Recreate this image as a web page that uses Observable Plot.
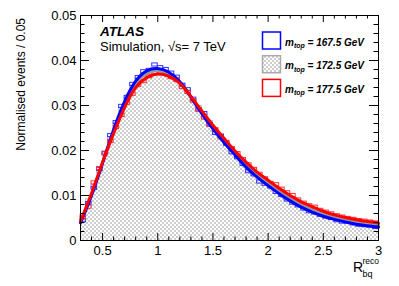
<!DOCTYPE html>
<html><head><meta charset="utf-8">
<script src="https://cdn.jsdelivr.net/npm/d3@7"></script>
<script src="https://cdn.jsdelivr.net/npm/@observablehq/plot@0.6"></script>
<style>body{margin:0;background:#fff} svg{display:block}</style>
</head><body><div id="chart"></div>
<script>
// ---- data ----
const binWidth = 0.05;
const binLow = d3.range(54).map(i => +(0.3 + i * binWidth).toFixed(2));
const errHalf = 0.00035;

const hist1725 = [.0055,.0088,.0120,.0153,.0190,.0226,.0257,.0290,.0314,.0340,.0357,.0366,.0376,.0379,.0376,.0374,.0366,.0358,.0344,.0330,.0310,.0295,.0275,.0262,.0243,.0230,.0214,.0202,.0186,.0175,.0161,.0152,.0140,.0133,.0122,.0115,.0105,.0099,.0089,.0084,.0076,.0072,.0065,.0062,.0056,.0054,.0049,.0047,.0043,.0042,.0040,.0038,.0037,.0035];
const hist1675 = [.0044,.0082,.0116,.0158,.0194,.0233,.0262,.0298,.0318,.0347,.0362,.0375,.0378,.0390,.0384,.0380,.0372,.0363,.0345,.0335,.0314,.0290,.0282,.0257,.0238,.0232,.0214,.0195,.0184,.0169,.0153,.0146,.0130,.0125,.0119,.0107,.0100,.0090,.0083,.0077,.0070,.0064,.0061,.0056,.0052,.0049,.0044,.0041,.0041,.0037,.0034,.0033,.0032,.0029];
const hist1775 = [.0050,.0074,.0128,.0160,.0193,.0220,.0251,.0278,.0305,.0325,.0345,.0353,.0364,.0372,.0374,.0370,.0362,.0356,.0340,.0329,.0310,.0290,.0272,.0256,.0246,.0228,.0218,.0204,.0193,.0180,.0168,.0158,.0147,.0137,.0127,.0124,.0114,.0106,.0100,.0090,.0083,.0077,.0074,.0067,.0063,.0059,.0055,.0052,.0049,.0047,.0044,.0043,.0041,.0039];

const fitX    = [0.3,0.4,0.5,0.6,0.7,0.8,0.9,1.0,1.1,1.2,1.3,1.4,1.5,1.6,1.7,1.8,1.9,2.0,2.1,2.2,2.3,2.4,2.5,2.6,2.7,2.8,2.9,3.0];
const fit1725 = [.0041,.0102,.0172,.0241,.0303,.0349,.0371,.0378,.0371,.0352,.0320,.0285,.0252,.0222,.0194,.0168,.0146,.0128,.0110,.0094,.0080,.0068,.0059,.0051,.0045,.0041,.0038,.0035];
const fit1675 = [.0039,.0100,.0172,.0246,.0309,.0354,.0377,.0382,.0374,.0353,.0319,.0282,.0248,.0218,.0190,.0163,.0141,.0122,.0104,.0088,.0074,.0063,.0054,.0047,.0041,.0036,.0033,.0030];
const fit1775 = [.0043,.0105,.0174,.0238,.0296,.0340,.0362,.0370,.0365,.0349,.0320,.0288,.0256,.0227,.0199,.0174,.0152,.0134,.0116,.0100,.0086,.0075,.0065,.0057,.0051,.0046,.0042,.0039];

const xMajor = [0.5,1,1.5,2,2.5,3];
const xMinor = d3.range(28).map(i => +(0.3 + i*0.1).toFixed(1)).filter(v => !xMajor.includes(v));
const yMajor = [0,0.01,0.02,0.03,0.04,0.05];
const yMinor = d3.range(26).map(i => +(i*0.002).toFixed(3)).filter(v => !yMajor.includes(v));
const xLabels = ["0.5","1","1.5","2","2.5","3"];
const yLabels = ["0","0.01","0.02","0.03","0.04","0.05"];

const legendLabels = ["167.5 GeV","172.5 GeV","177.5 GeV"];

// ---- build rows ----
const rows = h => h.map((v,i) => ({x1: binLow[i], x2: +(binLow[i]+binWidth).toFixed(2), v}));
const r1725 = rows(hist1725), r1675 = rows(hist1675), r1775 = rows(hist1775);
const stepPts = r1725.map(d => ({x: d.x1, y: d.v})).concat([{x: 3.0, y: hist1725[hist1725.length-1]}]);
const fitRows = f => fitX.map((x,i) => ({x, y: f[i]}));

const W = 399, H = 286, mL = 80, mR = 21, mT = 15, mB = 46;
const fw = W - mL - mR, fh = H - mT - mB;
const FONT = "'Liberation Sans', Arial, Helvetica, sans-serif";

const boxes = (data, color) => Plot.rect(data, {x1: "x1", x2: "x2", y1: d => d.v - errHalf, y2: d => d.v + errHalf, fill: "none", stroke: color, strokeWidth: 1});

const chart = Plot.plot({
  width: W, height: H, marginLeft: mL, marginRight: mR, marginTop: mT, marginBottom: mB,
  style: {fontFamily: FONT, fontSize: "13px", background: "white", color: "black"},
  x: {domain: [0.3, 3]},
  y: {domain: [0, 0.05]},
  marks: [
    Plot.areaY(stepPts, {x: "x", y: "y", curve: "step-after", fill: "url(#chk)"}),
    boxes(r1725, "#b8b8b8"),
    boxes(r1675, "#3030ff"),
    boxes(r1775, "#ff3030"),
    Plot.line(fitRows(fit1725), {x: "x", y: "y", curve: "natural", stroke: "#999999", strokeWidth: 3}),
    Plot.line(fitRows(fit1675), {x: "x", y: "y", curve: "natural", stroke: "#0000ff", strokeWidth: 3}),
    Plot.line(fitRows(fit1775), {x: "x", y: "y", curve: "natural", stroke: "#ff0000", strokeWidth: 3}),
    Plot.frame({stroke: "black", strokeWidth: 1}),
    Plot.tickX(xMajor, {x: d => d, insetTop: fh - 7, stroke: "black"}),
    Plot.tickX(xMinor, {x: d => d, insetTop: fh - 3.5, stroke: "black"}),
    Plot.tickX(xMajor, {x: d => d, insetBottom: fh - 7, stroke: "black"}),
    Plot.tickX(xMinor, {x: d => d, insetBottom: fh - 3.5, stroke: "black"}),
    Plot.tickY(yMajor, {y: d => d, insetRight: fw - 9, stroke: "black"}),
    Plot.tickY(yMinor, {y: d => d, insetRight: fw - 4.5, stroke: "black"}),
    Plot.tickY(yMajor, {y: d => d, insetLeft: fw - 9, stroke: "black"}),
    Plot.tickY(yMinor, {y: d => d, insetLeft: fw - 4.5, stroke: "black"}),
    Plot.axisX({ticks: xMajor, tickSize: 0, tickPadding: 5, tickFormat: d => xLabels[xMajor.indexOf(d)], label: null, fontSize: 13}),
    Plot.axisY({ticks: yMajor, tickSize: 0, tickPadding: 4, tickFormat: d => yLabels[yMajor.indexOf(d)], label: null, fontSize: 13})
  ]
});

document.getElementById("chart").appendChild(chart);
const svg = d3.select(chart);
const defs = svg.insert("defs", ":first-child");
const pat = defs.append("pattern").attr("id", "chk").attr("width", 4).attr("height", 4).attr("patternUnits", "userSpaceOnUse");
pat.append("rect").attr("width", 4).attr("height", 4).attr("fill", "#ffffff");
pat.append("rect").attr("width", 2).attr("height", 2).attr("fill", "#cdcdcd");
pat.append("rect").attr("x", 2).attr("y", 2).attr("width", 2).attr("height", 2).attr("fill", "#cdcdcd");

const g = svg.append("g").attr("font-family", FONT).attr("fill", "black").attr("text-anchor", "start");
// y title
g.append("text").attr("transform", "translate(21,18) rotate(-90)").attr("text-anchor", "end").attr("dy", "0.35em").attr("font-size", 12).text("Normalised events / 0.05");
// x title
g.append("text").attr("x", 353).attr("y", 272).attr("font-size", 14).text("R");
g.append("text").attr("x", 362.5).attr("y", 263.5).attr("font-size", 8.5).text("reco");
g.append("text").attr("x", 362.5).attr("y", 277).attr("font-size", 9).text("bq");
// ATLAS label
g.append("text").attr("x", 100).attr("y", 36).attr("font-size", 13.5).attr("font-weight", "bold").attr("font-style", "italic").text("ATLAS");
g.append("text").attr("x", 100).attr("y", 51).attr("font-size", 13).text("Simulation, \u221As= 7 TeV");
// legend
const legColors = [{stroke: "#0000ff", fill: "#ffffff"}, {stroke: "#aaaaaa", fill: "url(#chk)"}, {stroke: "#ff0000", fill: "#ffffff"}];
legendLabels.forEach((lab, i) => {
  const y0 = 32 + i * 23.7;
  g.append("rect").attr("x", 262.5).attr("y", y0).attr("width", 18).attr("height", 17)
    .attr("fill", legColors[i].fill).attr("stroke", legColors[i].stroke).attr("stroke-width", 1.5);
  const t = g.append("text").attr("x", 285).attr("y", y0 + 13.5).attr("font-size", 10).attr("font-weight", "bold").attr("font-style", "italic");
  t.append("tspan").text("m");
  t.append("tspan").attr("font-size", 7).attr("dy", 2.5).text("top");
  t.append("tspan").attr("dy", -2.5).text(" = " + lab);
});
</script></body></html>
